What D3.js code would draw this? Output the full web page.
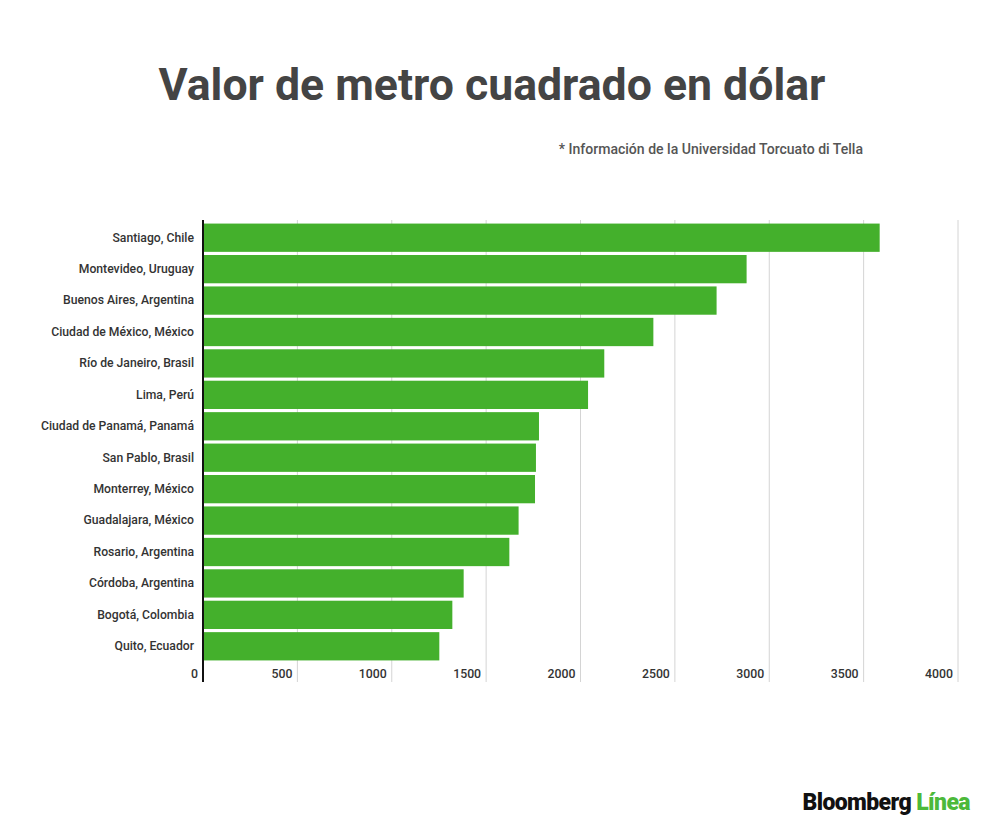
<!DOCTYPE html>
<html lang="es">
<head>
<meta charset="UTF-8">
<title>Valor de metro cuadrado en dólar</title>
<script src="https://cdn.jsdelivr.net/npm/d3@7"></script>
<style>
    html, body { margin: 0; background: #fff; }
    svg { display: block; font-family: Roboto, "Noto Sans", sans-serif; }
</style>
</head>
<body>
<svg id="chart" width="1000" height="830"></svg>
<script>
    // datos
    const cities = [
        'Santiago, Chile', 'Montevideo, Uruguay', 'Buenos Aires, Argentina',
        'Ciudad de México, México', 'Río de Janeiro, Brasil', 'Lima, Perú',
        'Ciudad de Panamá, Panamá', 'San Pablo, Brasil', 'Monterrey, México',
        'Guadalajara, México', 'Rosario, Argentina', 'Córdoba, Argentina',
        'Bogotá, Colombia', 'Quito, Ecuador'
    ];
    const values = [3585, 2880, 2721, 2386, 2126, 2040, 1780, 1764, 1759, 1672, 1623, 1381, 1321, 1252];
    const xTicks = [0, 500, 1000, 1500, 2000, 2500, 3000, 3500, 4000];

    const data = cities.map((c, i) => ({ city: c, value: values[i] }));

    const svg = d3.select('#chart');
    const margin = { top: 222, left: 203, right: 42 };
    const width = +svg.attr('width');
    const innerWidth = width - margin.left - margin.right;

    const x = d3.scaleLinear().domain([0, 4000]).range([0, innerWidth]);
    const y = d3.scaleBand()
        .domain(cities)
        .range([0, 440])
        .paddingInner(0.1)
        .paddingOuter(0.05);

    const g = svg.append('g').attr('transform', `translate(${margin.left},${margin.top})`);

    // gridlines
    g.append('g')
        .selectAll('line')
        .data(xTicks.slice(1))
        .join('line')
        .attr('x1', d => x(d)).attr('x2', d => x(d))
        .attr('y1', -2).attr('y2', 460)
        .attr('stroke', '#d4d4d4')
        .attr('stroke-width', 1);

    // bars
    g.selectAll('rect.bar')
        .data(data)
        .join('rect')
        .attr('class', 'bar')
        .attr('x', 0)
        .attr('y', d => y(d.city))
        .attr('width', d => x(d.value))
        .attr('height', y.bandwidth())
        .attr('fill', '#44b02c');

    // eje y (etiquetas)
    const yAxis = d3.axisLeft(y).tickSize(0).tickPadding(9);
    g.append('g')
        .call(yAxis)
        .call(s => s.select('.domain').remove())
        .selectAll('text')
        .attr('fill', '#333')
        .style('font-size', '12.2px')
        .style('font-weight', 500)
        .style('font-family', 'Roboto, sans-serif');

    // línea del eje
    g.append('line')
        .attr('x1', 0).attr('x2', 0)
        .attr('y1', -2).attr('y2', 460)
        .attr('stroke', '#111')
        .attr('stroke-width', 2);

    // eje x: etiquetas a la izquierda de cada línea
    const xAxis = d3.axisBottom(x).tickValues(xTicks).tickFormat(d3.format('d')).tickSize(0).tickPadding(0);
    g.append('g')
        .attr('transform', `translate(0,${455.5})`)
        .call(xAxis)
        .call(s => s.select('.domain').remove())
        .selectAll('text')
        .attr('text-anchor', 'end')
        .attr('dx', -5.5)
        .attr('dy', 0)
        .attr('y', 0)
        .attr('fill', '#333')
        .style('font-size', '12.3px')
        .style('font-weight', 500)
        .style('font-family', 'Roboto, sans-serif');

    // títulos
    svg.append('text')
        .attr('x', 492).attr('y', 100)
        .attr('text-anchor', 'middle')
        .attr('fill', '#444')
        .style('font-size', '44.6px')
        .style('font-weight', 'bold')
        .text('Valor de metro cuadrado en dólar');

    svg.append('text')
        .attr('x', 863).attr('y', 154)
        .attr('text-anchor', 'end')
        .attr('fill', '#555')
        .style('font-size', '14.05px')
        .style('font-weight', 500)
        .text('* Información de la Universidad Torcuato di Tella');

    // logo
    const logo = svg.append('text')
        .attr('x', 970).attr('y', 810)
        .attr('text-anchor', 'end')
        .style('font-size', '23px')
        .style('font-weight', 900)
        .style('letter-spacing', '-0.6px');
    logo.append('tspan').attr('fill', '#111').text('Bloomberg ');
    logo.append('tspan').attr('fill', '#4cb93a').text('Línea');
</script>
</body>
</html>
